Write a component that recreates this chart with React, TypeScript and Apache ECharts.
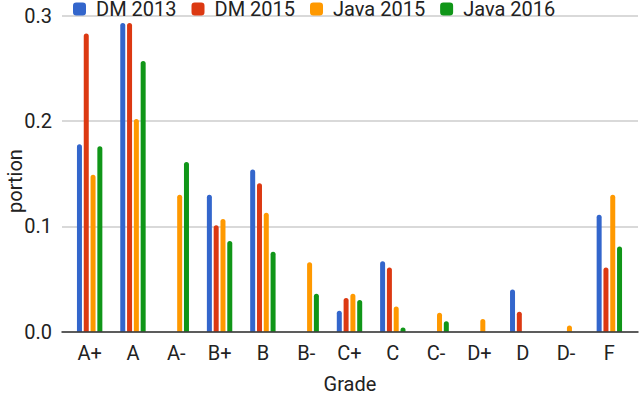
import React, { useEffect, useRef } from "react";
import * as echarts from "echarts";

const grades = ["A+", "A", "A-", "B+", "B", "B-", "C+", "C", "C-", "D+", "D", "D-", "F"];
const seriesNames = ["DM 2013", "DM 2015", "Java 2015", "Java 2016"];
const dm2013 = [0.178, 0.293, null, 0.130, 0.154, null, 0.020, 0.067, null, null, 0.040, null, 0.111];
const dm2015 = [0.283, 0.293, null, 0.101, 0.141, null, 0.032, 0.061, null, null, 0.019, null, 0.061];
const java2015 = [0.149, 0.202, 0.130, 0.107, 0.113, 0.066, 0.036, 0.024, 0.018, 0.012, null, 0.006, 0.130];
const java2016 = [0.176, 0.257, 0.161, 0.086, 0.076, 0.036, 0.030, 0.004, 0.010, null, null, null, 0.081];
const colors = ["#3366cc", "#dc3912", "#ff9900", "#109618"];
const yTicks = [0, 0.1, 0.2, 0.3];
const yTitle = "portion";
const xTitle = "Grade";

const FONT = "Roboto";

export default function App() {
  const ref = useRef<HTMLDivElement>(null);
  useEffect(() => {
    if (!ref.current) return;
    const chart = echarts.init(ref.current, null, { renderer: "svg" });
    const allData = [dm2013, dm2015, java2015, java2016];
    const option: any = {
      animation: false,
      color: colors,
      textStyle: { fontFamily: FONT },
      legend: {
        left: 73,
        top: -1,
        padding: 0,
        icon: "roundRect",
        itemWidth: 13,
        itemHeight: 13,
        itemGap: 15,
        formatter: (n: string) => "{g|}" + n,
        textStyle: {
          fontFamily: FONT,
          fontSize: 20,
          color: "#222",
          rich: { g: { width: 5 } },
        },
        data: seriesNames,
      },
      graphic: [
        {
          type: "text",
          x: 15,
          y: 181,
          rotation: Math.PI / 2,
          style: {
            text: yTitle,
            fontFamily: FONT,
            fontSize: 20,
            fill: "#222",
            align: "center",
            verticalAlign: "middle",
          },
        },
      ],
      grid: [
        { left: 62, right: 2, top: 15.7, bottom: 64.3, outerBoundsMode: "none", containLabel: false },
        { left: 68, right: 9, top: 15.7, bottom: 64.3, outerBoundsMode: "none", containLabel: false },
      ],
      xAxis: [
        {
          type: "value",
          gridIndex: 0,
          min: 0,
          max: 1,
          axisLine: { show: true, onZero: false, lineStyle: { color: "#333", width: 1.5 } },
          axisTick: { show: false },
          axisLabel: { show: false },
          splitLine: { show: false },
          name: xTitle,
          nameLocation: "middle",
          nameGap: 42,
          nameTextStyle: { fontFamily: FONT, fontSize: 20, color: "#222" },
          z: 5,
        },
        {
          type: "category",
          gridIndex: 1,
          data: grades,
          axisLine: { show: false },
          axisTick: { show: false },
          splitLine: { show: false },
          axisLabel: { fontFamily: FONT, fontSize: 20, color: "#222", margin: 11, interval: 0 },
        },
      ],
      yAxis: [
        {
          type: "value",
          gridIndex: 0,
          min: yTicks[0],
          max: yTicks[yTicks.length - 1],
          interval: 0.1,
          axisLine: { show: false },
          axisTick: { show: false },
          axisLabel: {
            fontFamily: FONT,
            fontSize: 20,
            color: "#222",
            margin: 10,
            padding: [5, 0, 0, 0],
            formatter: (v: number) => v.toFixed(1),
          },
          splitLine: { show: true, lineStyle: { color: "#cccccc", width: 1.5 } },
        },
        {
          type: "value",
          gridIndex: 1,
          min: 0,
          max: 0.3,
          show: false,
        },
      ],
      series: seriesNames.map((name, i) => ({
        name,
        type: "bar",
        xAxisIndex: 1,
        yAxisIndex: 1,
        data: allData[i],
        barWidth: 5,
        barGap: "36%",
        itemStyle: { color: colors[i], borderRadius: [2.5, 2.5, 0, 0] },
      })),
    };
    chart.setOption(option);
    return () => chart.dispose();
  }, []);
  return <div ref={ref} style={{ position: "absolute", left: 0, top: 0, width: 640, height: 396 }} />;
}
